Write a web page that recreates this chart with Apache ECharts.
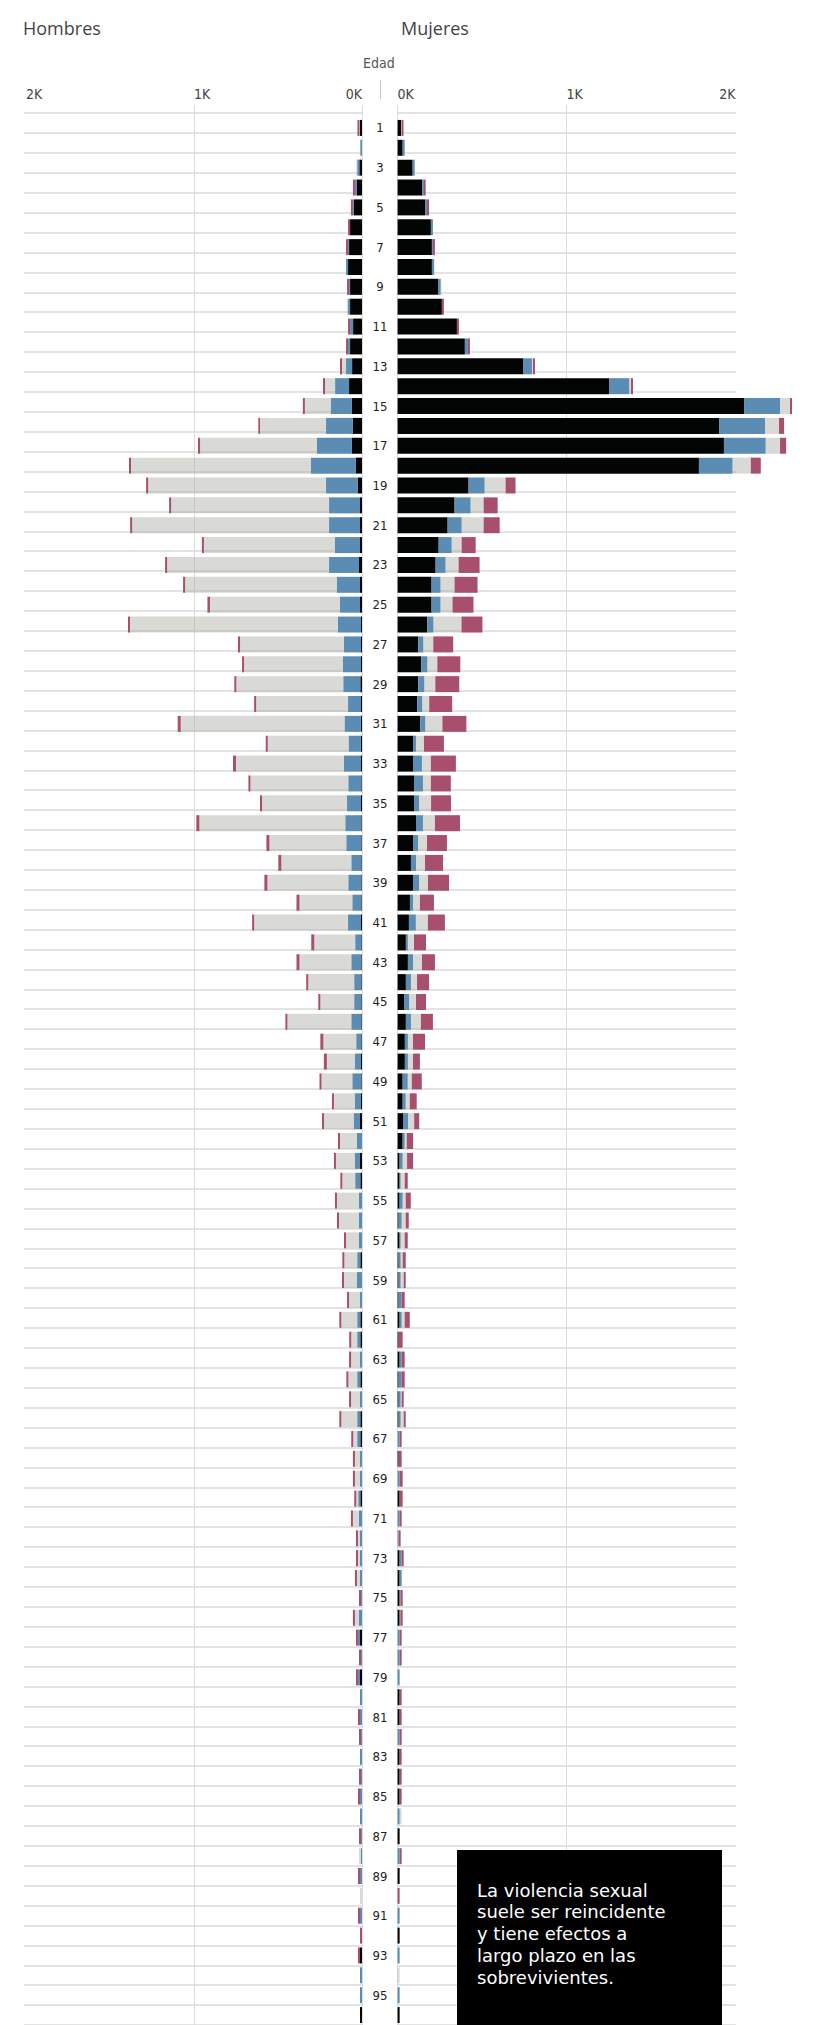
<!DOCTYPE html>
<html>
<head>
<meta charset="utf-8">
<script src="https://cdn.jsdelivr.net/npm/echarts@6/dist/echarts.min.js"></script>
<style>
html,body{margin:0;padding:0;background:#fff;overflow:hidden;}
#chart{width:821px;height:2025px;}
</style>
</head>
<body>
<div id="chart"></div>
<script>
// ---------- DATA ----------
const ages = Array.from({length: 96}, (_, i) => String(i + 1));
const tickValues = [0, 1000, 2000];
const tickLabels = ['0K', '1K', '2K'];
const seriesNames = ['Negro', 'Azul', 'Gris', 'Rosa'];
const noteLines = ['La violencia sexual', 'suele ser reincidente', 'y tiene efectos a', 'largo plazo en las', 'sobrevivientes.'];

const hombresNegro = [12,0,16,30,48,71,77,83,71,71, 53,71,59,77,60,54,60,36,24,12,
  12,12,18,12,12,6,6,6,10,6, 8,8,6,4,6,4,4,4,4,4, 6,4,4,4,4,4,4,6,4,6,
  12,0,12,10,0,0,0,10,0,0, 10,10,0,10,0,10,10,0,0,10, 0,0,0,0,0,0,12,0,12,0,
  0,0,0,0,0,0,0,0,0,0, 0,0,12,0,0,12];
const hombresAzul = [0,10,12,12,6,0,6,12,6,12, 18,12,36,83,125,160,208,268,190,184,
  184,149,178,137,119,137,101,107,101,77, 95,71,101,77,83,95,89,59,77,53, 77,36,59,42,42,59,30,36,53,36,
  36,30,30,30,18,18,18,18,30,12, 18,18,12,18,12,18,18,12,12,12, 18,12,12,12,6,18,12,6,12,12,
  12,6,12,6,12,12,6,6,12,0, 12,0,0,12,12,0];
const hombresGris = [3,0,6,0,0,0,0,0,0,6, 0,0,24,60,155,393,696,1071,1059,940,
  1172,780,964,904,774,1238,619,589,637,547, 976,482,643,583,506,869,458,417,482,315, 559,244,309,274,202,381,196,167,184,125,
  178,101,113,77,131,119,77,77,77,65, 95,36,53,53,53,95,24,30,30,12, 36,12,12,18,0,24,0,0,0,0,
  0,0,0,0,0,0,0,12,0,12, 0,0,0,0,0,0];
const hombresRosa = [12,0,0,12,12,12,12,0,12,0, 12,12,12,12,12,10,12,12,12,12,
  12,12,12,12,15,12,12,12,12,12, 18,12,18,12,12,18,18,18,18,18, 12,18,18,12,12,12,18,18,12,12,
  12,12,12,12,12,12,12,12,12,12, 12,12,12,12,12,12,12,12,12,12, 12,12,12,12,12,12,12,12,12,0,
  12,12,0,12,12,0,12,0,12,0, 12,12,12,0,0,0];

const mujeresNegro = [20,30,89,146,162,197,203,203,239,262, 351,398,742,1251,2050,1902,1931,1783,420,337,
  296,243,225,201,201,176,122,140,122,116, 134,91,91,97,97,109,91,79,91,73, 67,49,61,49,38,49,43,43,30,30,
  32,30,12,12,12,6,12,6,6,6, 12,6,12,6,6,6,0,6,0,12, 0,0,12,12,12,12,0,0,0,12,
  12,0,12,12,12,0,12,0,12,0, 0,12,0,0,0,12];
const mujeresAzul = [0,12,12,10,12,12,6,12,16,0, 0,18,53,120,213,272,247,199,95,95,
  83,77,59,53,53,36,30,36,36,30, 30,18,53,53,30,41,30,30,36,18, 41,12,30,30,30,30,18,18,30,18,
  30,12,18,6,18,18,6,12,12,18, 12,0,12,18,12,12,12,0,12,0, 12,6,12,12,6,6,12,12,12,0,
  0,12,0,0,0,12,0,12,0,0, 12,0,12,0,12,0];
const mujeresGris = [3,0,0,0,0,0,0,4,4,0, 0,0,6,10,59,83,85,108,124,77,
  130,59,77,83,71,166,59,59,65,41, 101,47,53,47,71,71,53,53,53,41, 71,36,53,36,41,59,30,30,24,24,
  36,12,26,24,18,24,24,12,18,0, 18,0,0,0,6,18,0,0,0,0, 0,0,0,0,0,0,0,0,0,0,
  0,0,0,0,0,12,0,0,0,0, 0,0,0,12,0,0];
const mujeresRosa = [12,0,0,10,12,0,12,0,0,12, 12,12,12,12,12,30,36,59,59,83,
  95,83,124,136,124,124,118,136,142,136, 142,118,148,118,118,148,118,107,124,83, 101,71,77,71,59,71,71,41,59,41,
  30,38,36,18,30,18,18,18,12,18, 30,24,18,18,12,12,12,18,18,18, 12,12,12,0,12,12,12,12,0,12,
  12,12,12,12,12,0,0,12,0,12, 0,0,0,0,0,0];

// ---------- STYLE ----------
const colors = ['#030504', '#5b8db4', 'rgba(170,170,165,0.45)', '#a94f6e'];
const narrow = "'Liberation Sans Narrow', 'DejaVu Sans Condensed', sans-serif";
const ROW = 20;
const N = ages.length;

const chart = echarts.init(document.getElementById('chart'), null, {renderer: 'svg'});

function tickFmt(v) {
  const i = tickValues.indexOf(v);
  return i >= 0 ? tickLabels[i] : '';
}

const hombres = [hombresNegro, hombresAzul, hombresGris, hombresRosa];
const mujeres = [mujeresNegro, mujeresAzul, mujeresGris, mujeresRosa];

const series = [];
hombres.forEach((d, i) => series.push({
  name: 'Hombres ' + seriesNames[i], type: 'bar', stack: 'h', data: d,
  xAxisIndex: 0, yAxisIndex: 0, barWidth: 16, itemStyle: {color: colors[i]},
  silent: true
}));
mujeres.forEach((d, i) => series.push({
  name: 'Mujeres ' + seriesNames[i], type: 'bar', stack: 'm', data: d,
  xAxisIndex: 1, yAxisIndex: 1, barWidth: 16, itemStyle: {color: colors[i]},
  clip: false, silent: true
}));

const valueLabelAxis = (grid, inverse) => ({
  gridIndex: grid, type: 'value', inverse: inverse, min: 0, max: 2000, interval: 1000,
  position: 'top',
  axisLine: {show: false}, axisTick: {show: false}, splitLine: {show: false},
  axisLabel: {
    formatter: tickFmt, align: 'left',
    alignMinLabel: inverse ? 'right' : 'left',
    alignMaxLabel: inverse ? 'left' : 'right',
    margin: 17, fontSize: 14, color: '#444', fontFamily: narrow
  }
});
const hiddenValue = (grid) => ({
  gridIndex: grid, type: 'value', min: 0, max: 2000,
  axisLine: {show: false}, axisTick: {show: false}, axisLabel: {show: false}, splitLine: {show: false}
});
const vlineAxis = (grid) => ({
  gridIndex: grid, type: 'value', min: 0, max: 1000, interval: 1000,
  axisLine: {show: false}, axisTick: {show: false}, axisLabel: {show: false},
  splitLine: {show: true, lineStyle: {color: '#dcdcdc', width: 1}}
});
const sepAxis = (grid) => ({
  gridIndex: grid, type: 'category', data: ages, inverse: true,
  axisLine: {show: false}, axisTick: {show: false}, axisLabel: {show: false},
  splitLine: {show: true, interval: 0, lineStyle: {color: '#e3e3e3', width: 2}}
});

const noteGraphics = noteLines.map((t, i) => ({
  type: 'text', x: 477, y: 1890 + i * 21.8, z: 11,
  style: {text: t, fill: '#fff', fontSize: 18, fontFamily: "'DejaVu Sans', sans-serif",
          verticalAlign: 'middle'}
}));

const option = {
  animation: false,
  title: [
    {text: 'Hombres', left: 23, top: 19, padding: 0,
     textStyle: {fontFamily: "'Open Sans', sans-serif", fontSize: 18, fontWeight: 'normal', color: '#444'}},
    {text: 'Mujeres', left: 401, top: 19, padding: 0,
     textStyle: {fontFamily: "'Open Sans', sans-serif", fontSize: 18, fontWeight: 'normal', color: '#444'}}
  ],
  grid: [
    {left: 26, top: 118, width: 336, height: N * ROW},
    {left: 397.6, top: 118, width: 338, height: N * ROW},
    {left: 24, top: 113, width: 338, height: N * ROW},
    {left: 397, top: 113, width: 339, height: N * ROW},
    {left: 194, top: 105, width: 168, height: N * ROW + 30},
    {left: 397.6, top: 105, width: 169, height: N * ROW + 30}
  ],
  xAxis: [
    valueLabelAxis(0, true),
    valueLabelAxis(1, false),
    hiddenValue(2),
    hiddenValue(3),
    vlineAxis(4),
    vlineAxis(5)
  ],
  yAxis: [
    {gridIndex: 0, type: 'category', data: ages, inverse: true, position: 'right',
     axisLine: {show: false}, axisTick: {show: false}, splitLine: {show: false},
     axisLabel: {interval: 1, align: 'center', margin: 18, fontSize: 13, color: '#222', fontFamily: narrow}},
    {gridIndex: 1, type: 'category', data: ages, inverse: true,
     axisLine: {show: false}, axisTick: {show: false}, axisLabel: {show: false}, splitLine: {show: false}},
    sepAxis(2),
    sepAxis(3),
    {gridIndex: 4, type: 'value', show: false},
    {gridIndex: 5, type: 'value', show: false}
  ],
  graphic: [
    {type: 'text', left: 363, top: 56,
     style: {text: 'Edad', fill: '#555', fontSize: 14, fontFamily: narrow}},
    {type: 'line', shape: {x1: 380.5, y1: 80, x2: 380.5, y2: 99},
     style: {stroke: '#c4c4c4', lineWidth: 1}},
    {type: 'rect', shape: {x: 457, y: 1850, width: 265, height: 200},
     style: {fill: '#000'}, z: 10}
  ].concat(noteGraphics),
  series: series
};
chart.setOption(option);
</script>
</body>
</html>
